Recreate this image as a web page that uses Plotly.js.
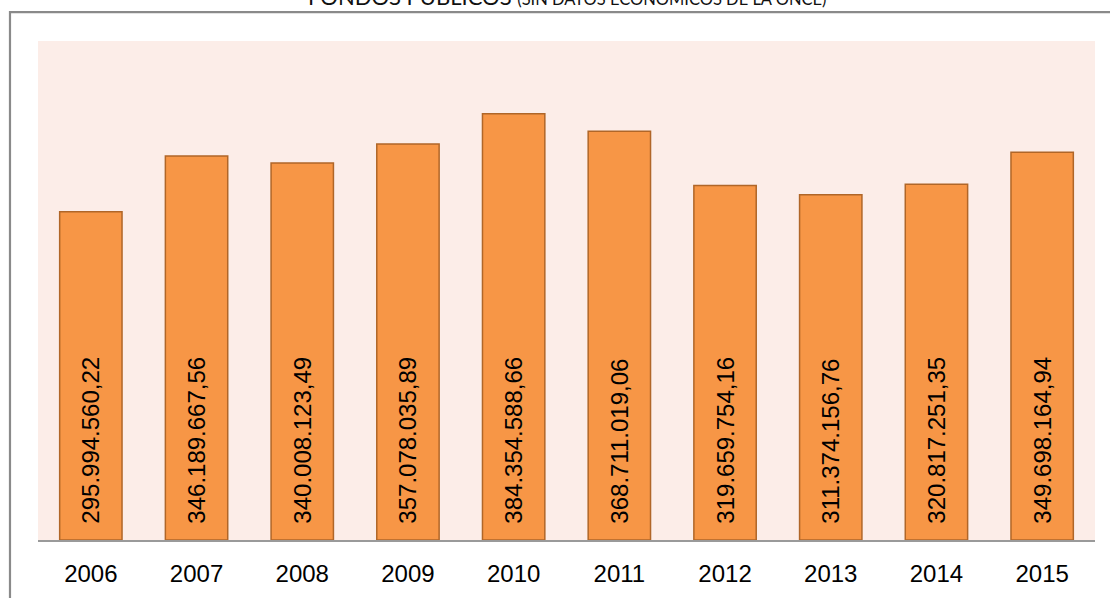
<!DOCTYPE html>
<html>
<head>
<meta charset="utf-8">
<script src="https://cdn.plot.ly/plotly-3.0.1.min.js"></script>
<style>
html,body{margin:0;padding:0;background:#fff;}
#chart{width:1110px;height:598px;}
</style>
</head>
<body>
<div id="chart"></div>
<script>
const years = ['2006','2007','2008','2009','2010','2011','2012','2013','2014','2015'];
const fondos = [295994560.22, 346189667.56, 340008123.49, 357078035.89, 384354588.66, 368711019.06, 319659754.16, 311374156.76, 320817251.35, 349698164.94];
const titleMain = 'FONDOS PÚBLICOS';
const titleSub = '(SIN DATOS ECONÓMICOS DE LA ONCE)';

const trace = {
  type: 'bar',
  x: years,
  y: fondos,
  marker: {color: '#F79646', line: {color: '#B06628', width: 1.5}},
  texttemplate: '\u00a0\u00a0%{y:,.2f}',
  textposition: 'inside',
  insidetextanchor: 'start',
  textangle: -90,
  textfont: {family: 'Liberation Sans, Arial, sans-serif', size: 24, color: '#000'},
  constraintext: 'none',
  hoverinfo: 'none'
};

const layout = {
  width: 1110, height: 598,
  margin: {l: 38, r: 15, t: 41, b: 58, pad: 0},
  paper_bgcolor: '#ffffff',
  plot_bgcolor: '#FCEDE8',
  separators: ',.',
  bargap: 0.41,
  showlegend: false,
  xaxis: {
    type: 'category',
    showline: true, linecolor: '#9A9A9A', linewidth: 1.5,
    ticks: '', showgrid: false, zeroline: false,
    tickfont: {family: 'Liberation Sans, Arial, sans-serif', size: 24, color: '#000'},
    ticklabelstandoff: 12
  },
  yaxis: {
    range: [0, 450000000],
    showgrid: false, zeroline: false, showticklabels: false, showline: false, ticks: ''
  },
  shapes: [{
    type: 'rect', xref: 'paper', yref: 'paper',
    x0: -0.0265, x1: 1.2, y0: -0.5, y1: 1.058,
    line: {color: '#8A8A8A', width: 2.2}, fillcolor: 'rgba(0,0,0,0)', layer: 'above'
  }],
  annotations: [{
    xref: 'paper', yref: 'paper', x: 0.5, y: 1.058,
    xanchor: 'center', yanchor: 'bottom', showarrow: false,
    text: titleMain + ' <span style="font-size:16.5px">' + titleSub + '</span>',
    font: {family: 'Lato, sans-serif', size: 22, color: '#111'}
  }]
};

Plotly.newPlot('chart', [trace], layout, {displayModeBar: false, staticPlot: true});
</script>
</body>
</html>
